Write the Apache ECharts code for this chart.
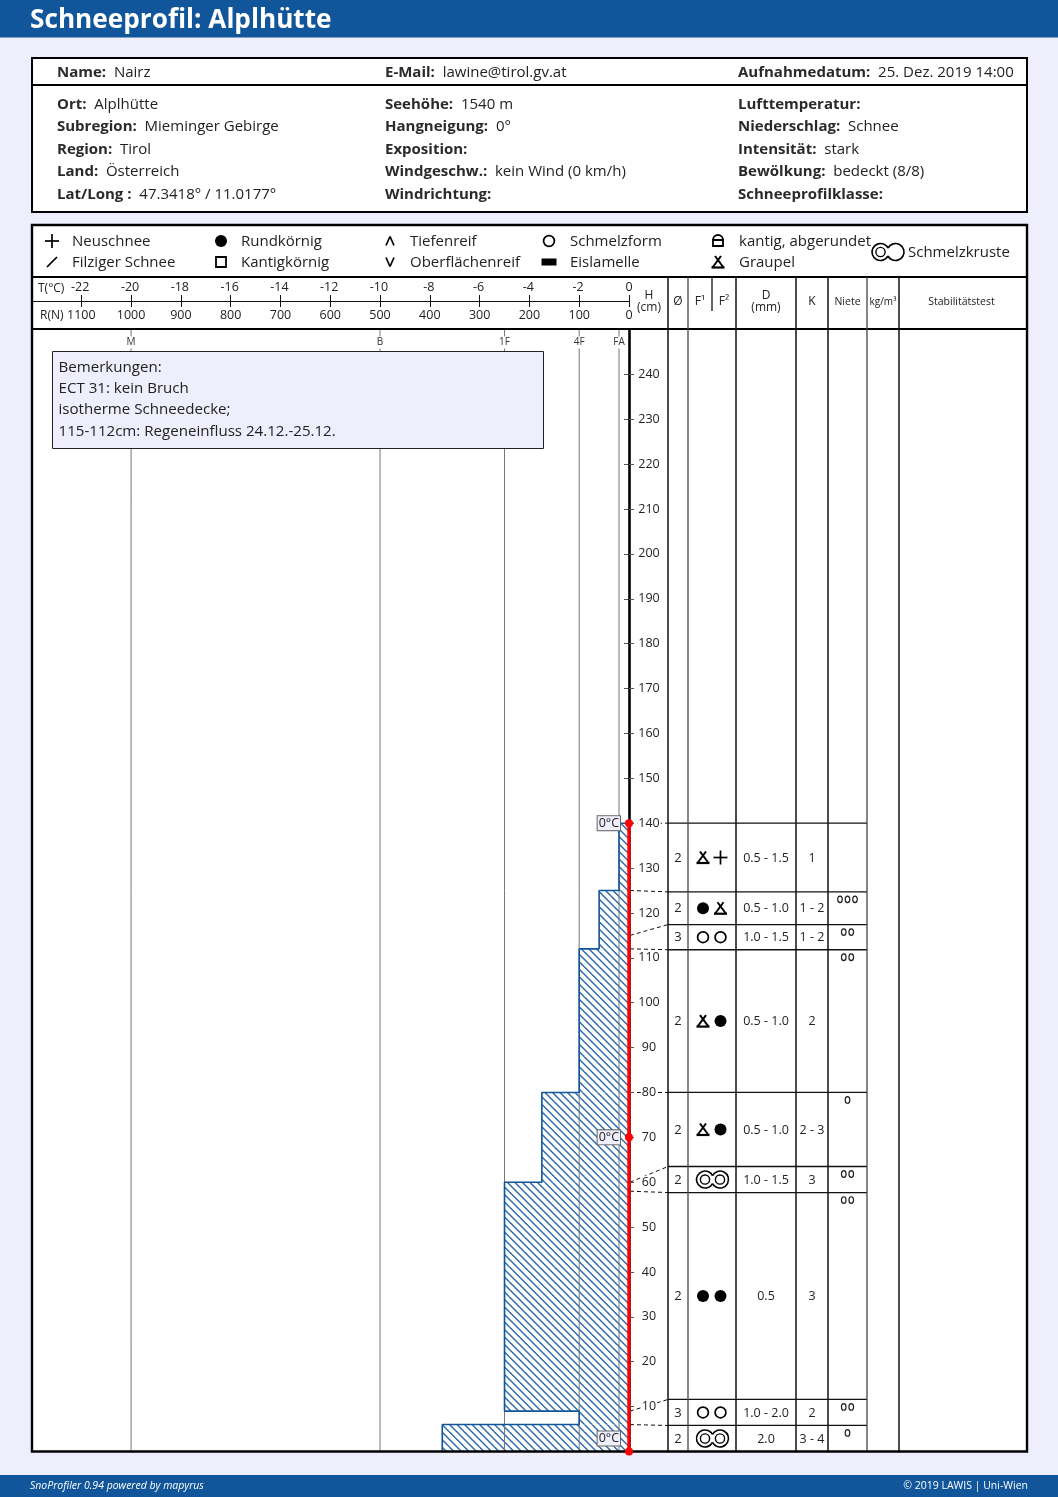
<!DOCTYPE html>
<html lang="de">
<head>
<meta charset="UTF-8">
<title>Schneeprofil: Alplhütte</title>
<script src="https://cdn.jsdelivr.net/npm/echarts@6/dist/echarts.min.js"></script>
<style>
html,body{margin:0;padding:0;background:#eeeefc}
#main{width:1058px;height:1497px}
</style>
</head>
<body>
<div id="main"></div>
<script>
// kopfdaten
var infoTop = [['Name:', 'Nairz'], ['E-Mail:', 'lawine@tirol.gv.at'], ['Aufnahmedatum:', '25. Dez. 2019 14:00']];
var infoLeft = [['Ort:', 'Alplhütte'], ['Subregion:', 'Mieminger Gebirge'], ['Region:', 'Tirol'], ['Land:', 'Österreich'], ['Lat/Long :', '47.3418° / 11.0177°']];
var infoMid = [['Seehöhe:', '1540 m'], ['Hangneigung:', '0°'], ['Exposition:', ''], ['Windgeschw.:', 'kein Wind (0 km/h)'], ['Windrichtung:', '']];
var infoRight = [['Lufttemperatur:', ''], ['Niederschlag:', 'Schnee'], ['Intensität:', 'stark'], ['Bewölkung:', 'bedeckt (8/8)'], ['Schneeprofilklasse:', '']];
var remarks = ['Bemerkungen:', 'ECT 31: kein Bruch', 'isotherme Schneedecke;', '115-112cm: Regeneinfluss 24.12.-25.12.'];

// legende
var legendNames = ['Neuschnee', 'Filziger Schnee', 'Rundkörnig', 'Kantigkörnig', 'Tiefenreif', 'Oberflächenreif', 'Schmelzform', 'Eislamelle', 'kantig, abgerundet', 'Graupel'];
var legendGlyphs = ['plus', 'slash', 'round', 'square', 'caret', 'vee', 'ring', 'ice', 'rounded', 'graupel'];

// harteprofil: R(N) je abschnitt
var hardBottom = [0, 6, 9, 60, 80, 112, 125];
var hardTop = [6, 9, 60, 80, 112, 125, 140];
var hardValue = [375, 100, 250, 175, 100, 60, 20];
var handValues = [1000, 500, 250, 100, 20];
var handNames = ['M', 'B', '1F', '4F', 'FA'];

// temperatur
var tempHeight = [140, 70, 0];
var tempValue = [0, 0, 0];

// schichten von oben nach unten
var layerTop = [140, 125, 115, 112, 80, 60, 58, 9, 6];
var layerBottom = [125, 115, 112, 80, 60, 58, 9, 6, 0];
var rowTop = [140, 124.7, 117.4, 111.8, 80, 63.5, 57.7, 11.6, 5.8];
var rowBottom = [124.7, 117.4, 111.8, 80, 63.5, 57.7, 11.6, 5.8, 0];
var grainSize = ['2', '2', '3', '2', '2', '2', '2', '3', '2'];
var grainF1 = ['graupel', 'round', 'ring', 'graupel', 'graupel', 'crust', 'round', 'ring', 'crust'];
var grainF2 = ['plus', 'graupel', 'ring', 'round', 'round', '', 'round', 'ring', ''];
var diameter = ['0.5 - 1.5', '0.5 - 1.0', '1.0 - 1.5', '0.5 - 1.0', '0.5 - 1.0', '1.0 - 1.5', '0.5', '1.0 - 2.0', '2.0'];
var hardClass = ['1', '1 - 2', '1 - 2', '2', '2 - 3', '3', '3', '2', '3 - 4'];
var niete = [0, 3, 2, 2, 1, 2, 2, 2, 1];

var FONT = '"Open Sans", "Noto Sans", sans-serif';
var BLUE = '#11559a';
var BG = '#eeeefc';
var HATCH = '#2a68ad';

var colEdges = [668, 688, 736, 796, 828, 867];

function font(size, weight, style) {
    return (style ? style + ' ' : '') + (weight ? weight + ' ' : '') + size + 'px ' + FONT;
}

function txt(x, y, text, size, opts) {
    opts = opts || {};
    return {
        type: 'text', z: opts.z || 50, silent: true,
        style: {
            x: x, y: y + 1, text: text, font: font(size, opts.weight, opts.style),
            fill: opts.fill || '#222', align: opts.align || 'left', verticalAlign: 'middle'
        }
    };
}

function seg(x1, y1, x2, y2, w, color, dash, z) {
    return {
        type: 'line', z: z || 40, silent: true,
        shape: { x1: x1, y1: y1, x2: x2, y2: y2 },
        style: { stroke: color || '#000', lineWidth: w || 1, lineDash: dash || null }
    };
}

function circle(x, y, r, fill, lw) {
    return {
        type: 'circle', z: 50, silent: true, shape: { cx: x, cy: y, r: r },
        style: fill ? { fill: '#000' } : { fill: 'none', stroke: '#000', lineWidth: lw || 1.6 }
    };
}

// kornformen als kleine grafikgruppen
function glyph(kind, x, y, legend) {
    var c = [];
    if (kind === 'plus') {
        c = [seg(x - 7, y, x + 7, y, 1.7, '#000', null, 50), seg(x, y - 7, x, y + 7, 1.7, '#000', null, 50)];
    } else if (kind === 'slash') {
        c = [seg(x - 5, y + 5, x + 5, y - 5, 1.7, '#000', null, 50)];
    } else if (kind === 'round') {
        c = [circle(x, y, 6, true)];
    } else if (kind === 'ring') {
        c = [circle(x, y, 5.4, false, 1.7)];
    } else if (kind === 'square') {
        c = [{ type: 'rect', z: 50, silent: true, shape: { x: x - 5, y: y - 5, width: 10, height: 10 }, style: { fill: 'none', stroke: '#000', lineWidth: 1.8 } }];
    } else if (kind === 'caret') {
        c = [seg(x - 4, y + 4.5, x, y - 4.5, 1.7, '#000', null, 50), seg(x, y - 4.5, x + 4, y + 4.5, 1.7, '#000', null, 50)];
    } else if (kind === 'vee') {
        c = [seg(x - 4, y - 4.5, x, y + 4.5, 1.7, '#000', null, 50), seg(x, y + 4.5, x + 4, y - 4.5, 1.7, '#000', null, 50)];
    } else if (kind === 'ice') {
        c = [{ type: 'rect', z: 50, silent: true, shape: { x: x - 7.5, y: y - 3.5, width: 15, height: 7 }, style: { fill: '#000' } }];
    } else if (kind === 'rounded') {
        c = [
            { type: 'rect', z: 50, silent: true, shape: { x: x - 5, y: y - 1, width: 10, height: 6 }, style: { fill: 'none', stroke: '#000', lineWidth: 1.8 } },
            { type: 'arc', z: 50, silent: true, shape: { cx: x, cy: y - 1, r: 5, startAngle: Math.PI, endAngle: 0, clockwise: true }, style: { fill: 'none', stroke: '#000', lineWidth: 1.8 } }
        ];
    } else if (kind === 'graupel') {
        c = [
            seg(x - 5.5, y + 5.5, x + 3, y - 6, 2, '#000', null, 50),
            seg(x + 5.5, y + 5.5, x - 3, y - 6, 2, '#000', null, 50),
            seg(x - 6.5, y + 5.5, x + 6.5, y + 5.5, 2.2, '#000', null, 50)
        ];
    } else if (kind === 'crust') {
        var st = { fill: 'none', stroke: '#000', lineWidth: 1.6 };
        c = [
            { type: 'arc', z: 50, silent: true, shape: { cx: x - 7.5, cy: y, r: 8.5, startAngle: 0.49, endAngle: Math.PI * 2 - 0.49, clockwise: true }, style: st },
            { type: 'arc', z: 50, silent: true, shape: { cx: x + 7.5, cy: y, r: 8.5, startAngle: Math.PI + 0.49, endAngle: Math.PI - 0.49, clockwise: true }, style: st },
            circle(x - 7.5, y, 4.6, false, 1.4)
        ];
        if (!legend) c.push(circle(x + 7.5, y, 4.6, false, 1.4));
    }
    return { type: 'group', children: c };
}

// schraffur als wiederholtes muster, zwei linien je kachel
function hatchPattern() {
    var n = 15, cv = document.createElement('canvas');
    cv.width = n; cv.height = n;
    var g = cv.getContext('2d');
    g.fillStyle = '#fff';
    g.fillRect(0, 0, n, n);
    g.strokeStyle = HATCH;
    g.lineWidth = 1.4;
    [-15, -7.5, 0, 7.5, 15].forEach(function (d) {
        g.beginPath(); g.moveTo(d - 2, -2); g.lineTo(d + n + 2, n + 2); g.stroke();
    });
    return { image: cv, repeat: 'repeat' };
}
var hatch = hatchPattern();

// rahmen und feste texte
function chrome() {
    var g = [];
    g.push({ type: 'rect', z: 0, silent: true, shape: { x: 0, y: 0, width: 1058, height: 37.5 }, style: { fill: BLUE } });
    g.push({ type: 'rect', z: 0, silent: true, shape: { x: 0, y: 1475, width: 1058, height: 22 }, style: { fill: BLUE } });
    g.push(txt(30, 20, 'Schneeprofil: Alplhütte', 26.2, { weight: 'bold', fill: '#fff' }));
    g.push(txt(30, 1485.5, 'SnoProfiler 0.94 powered by mapyrus', 10.5, { style: 'italic', fill: '#fff' }));
    g.push(txt(1028, 1485.5, '© 2019 LAWIS | Uni-Wien', 10.5, { fill: '#fff', align: 'right' }));

    g.push({ type: 'rect', z: 0, silent: true, shape: { x: 32, y: 58, width: 995, height: 154 }, style: { fill: '#fff' } });
    g.push({ type: 'rect', z: 0, silent: true, shape: { x: 32, y: 225, width: 995, height: 1226.5 }, style: { fill: '#fff' } });
    g.push({ type: 'rect', z: 45, silent: true, shape: { x: 32, y: 58, width: 995, height: 154 }, style: { fill: 'none', stroke: '#000', lineWidth: 2 } });
    g.push({ type: 'rect', z: 45, silent: true, shape: { x: 32, y: 225, width: 995, height: 1226.5 }, style: { fill: 'none', stroke: '#000', lineWidth: 2.4 } });
    g.push(seg(32, 85, 1027, 85, 2, '#000'));
    g.push(seg(32, 277, 1027, 277, 2, '#000'));
    g.push(seg(32, 329, 1027, 329, 2, '#000'));

    function info(x, y, row) {
        g.push({
            type: 'text', z: 50, silent: true,
            style: {
                x: x, y: y + 1, verticalAlign: 'middle', align: 'left',
                text: '{b|' + row[0] + '  }{v|' + row[1] + '}',
                rich: {
                    b: { font: font(15, 'bold'), fill: '#2a2a2a' },
                    v: { font: font(15), fill: '#222' }
                }
            }
        });
    }
    var tops = [57, 385, 738];
    infoTop.forEach(function (r, i) { info(tops[i], 72, r); });
    [infoLeft, infoMid, infoRight].forEach(function (col, c) {
        col.forEach(function (r, i) { info(tops[c], 103.5 + i * 22.5, r); });
    });

    var lx = [52, 221, 390, 549, 718], ltx = [72, 241, 410, 570, 739];
    legendNames.forEach(function (name, i) {
        var c = Math.floor(i / 2), y = i % 2 ? 262 : 241;
        g.push(glyph(legendGlyphs[i], lx[c], y, true));
        g.push(txt(ltx[c], y, name, 15));
    });
    g.push(glyph('crust', 888, 252, true));
    g.push(txt(908, 252, 'Schmelzkruste', 15));

    // tabellenkopf
    [668, 688, 736, 796, 828, 867, 899].forEach(function (x, i) {
        g.push(seg(x, 277, x, 1451, i === 1 || i === 5 ? 1.3 : 1.5, i === 1 || i === 5 ? '#444' : '#111'));
    });
    g.push(seg(712, 277, 712, 311, 1.3, '#111'));
    g.push(txt(38, 288, 'T(°C)', 12));
    g.push(txt(40, 315, 'R(N)', 12));
    g.push(txt(649, 295, 'H', 12, { align: 'center' }));
    g.push(txt(649, 307, '(cm)', 12, { align: 'center' }));
    g.push(txt(678, 300.5, 'Ø', 12, { align: 'center' }));
    g.push(txt(700, 300.5, 'F¹', 12, { align: 'center' }));
    g.push(txt(724, 300.5, 'F²', 12, { align: 'center' }));
    g.push(txt(766, 295, 'D', 12, { align: 'center' }));
    g.push(txt(766, 307, '(mm)', 12, { align: 'center' }));
    g.push(txt(812, 300.5, 'K', 12, { align: 'center' }));
    g.push(txt(847.5, 301, 'Niete', 10.5, { align: 'center' }));
    g.push(txt(883, 301, 'kg/m³', 10, { align: 'center' }));
    g.push(txt(961.5, 301, 'Stabilitätstest', 10.5, { align: 'center' }));

    // bemerkungen
    g.push({ type: 'rect', z: 60, silent: true, shape: { x: 52.5, y: 351.5, width: 491, height: 97 }, style: { fill: BG, stroke: '#222', lineWidth: 1 } });
    remarks.forEach(function (t, i) {
        var el = txt(58.5, 366.5 + i * 21.3, t, 15.1);
        el.z = 61;
        g.push(el);
    });
    return g;
}

var chart = echarts.init(document.getElementById('main'), null, { renderer: 'canvas' });

// umriss von oben nach unten
var outline = [[0, hardTop[hardTop.length - 1]]];
for (var ii = hardValue.length - 1; ii >= 0; ii--) {
    outline.push([hardValue[ii], hardTop[ii]]);
    outline.push([hardValue[ii], hardBottom[ii]]);
}

var noLabel = { show: false };
var off = { show: false };

chart.setOption({
    animation: false,
    backgroundColor: BG,
    textStyle: { fontFamily: FONT },
    graphic: chrome(),
    grid: [
        { left: 31.5, top: 329.5, width: 597.5, height: 1122 },
        { left: 629, top: 329.5, width: 398, height: 1122 },
        { left: 31.5, top: 301, width: 597.5, height: 0 }
    ],
    xAxis: [
        { type: 'value', gridIndex: 0, min: 0, max: 1200, inverse: true, show: false },
        { type: 'value', gridIndex: 0, min: -24, max: 0, show: false },
        { type: 'value', gridIndex: 1, min: 629, max: 1027, show: false },
        {
            type: 'value', gridIndex: 2, min: -24, max: 0, interval: 2, position: 'top',
            axisLine: { lineStyle: { color: '#111', width: 1.2 } },
            axisTick: { length: 6, lineStyle: { color: '#111' } },
            splitLine: off,
            axisLabel: {
                margin: 7.5, fontSize: 12.5, color: '#222', fontFamily: FONT, hideOverlap: false,
                formatter: function (v) { return v === -24 ? '' : v === 0 ? '0' : String(v) + '\u2009'; }
            }
        },
        {
            type: 'value', gridIndex: 2, min: 0, max: 1200, interval: 100, inverse: true, position: 'bottom',
            axisLine: { lineStyle: { color: '#111', width: 1.2 } },
            axisTick: { length: 6, lineStyle: { color: '#111' } },
            splitLine: off,
            axisLabel: {
                margin: 8, fontSize: 12.5, color: '#222', fontFamily: FONT, hideOverlap: false,
                formatter: function (v) { return v === 1200 ? '' : String(v); }
            }
        }
    ],
    yAxis: [
        {
            type: 'value', gridIndex: 0, min: 0, max: 250, interval: 10, position: 'right', z: 20,
            axisLine: { show: true, onZero: false, lineStyle: { color: '#000', width: 2.6 } },
            axisTick: { show: true, length: 5, lineStyle: { color: '#555', width: 1 } },
            splitLine: off,
            axisLabel: {
                margin: 20, align: 'center', fontSize: 12.5, color: '#222', fontFamily: FONT, hideOverlap: false,
                backgroundColor: '#fff', padding: [0, 1, 0, 1],
                formatter: function (v) { return v === 0 || v === 250 ? '' : String(v); }
            }
        },
        {
            type: 'value', gridIndex: 0, min: 0, max: 250, interval: 10, position: 'right', z: 0,
            axisLine: noLabel,
            axisTick: { show: true, inside: true, length: 5, lineStyle: { color: '#555', width: 1 } },
            axisLabel: noLabel, splitLine: off
        },
        { type: 'value', gridIndex: 1, min: 0, max: 250, show: false },
        { type: 'value', gridIndex: 2, min: 0, max: 1, show: false }
    ],
    series: [
        {
            // schraffierte harte
            type: 'custom', xAxisIndex: 0, yAxisIndex: 0, z: 3, clip: false, silent: true,
            data: hardValue.map(function (v, i) { return [v, hardBottom[i], hardTop[i]]; }),
            encode: { x: 0, y: [1, 2] },
            renderItem: function (p, api) {
                var a = api.coord([api.value(0), api.value(2)]);
                var b = api.coord([0, api.value(1)]);
                return {
                    type: 'rect',
                    shape: { x: a[0], y: a[1], width: b[0] - a[0], height: b[1] - a[1] },
                    style: { fill: hatch }
                };
            }
        },
        {
            // handhaerte-linien
            type: 'custom', xAxisIndex: 0, yAxisIndex: 0, z: 4, clip: false, silent: true,
            data: handValues.map(function (v, i) { return [v, i]; }),
            encode: { x: 0 },
            renderItem: function (p, api) {
                var t = api.coord([api.value(0), 250]);
                var b = api.coord([api.value(0), 0]);
                return {
                    type: 'group',
                    children: [
                        seg(t[0], t[1], t[0], b[1], 1, '#777', null, 1),
                        {
                            type: 'text',
                            style: {
                                x: t[0], y: t[1] + 13, text: handNames[api.value(1)],
                                font: font(10), fill: '#333', align: 'center', verticalAlign: 'middle',
                                backgroundColor: '#fff', padding: [1, 0, 1, 0]
                            }
                        }
                    ]
                };
            }
        },
        {
            // umriss
            type: 'line', xAxisIndex: 0, yAxisIndex: 0, z: 5, silent: true, showSymbol: false, symbol: 'none',
            data: outline, clip: false, lineStyle: { color: BLUE, width: 1.6 }
        },
        {
            // tabellenzeilen
            type: 'custom', xAxisIndex: 2, yAxisIndex: 2, z: 6, clip: false, silent: true,
            data: layerTop.map(function (v, i) { return [colEdges[0], rowTop[i], i]; }),
            encode: { x: 0, y: 1 },
            renderItem: function (p, api) {
                var i = api.value(2);
                var top = api.coord([colEdges[0], rowTop[i]]);
                var bot = api.coord([colEdges[5], rowBottom[i]]);
                var left = api.coord([630, layerTop[i]]);
                var mid = (top[1] + bot[1]) / 2;
                var c = [];
                c.push(seg(top[0], top[1], bot[0], top[1], 1.3, '#111', null, 1));
                // verbindung zur hoehe
                c.push(seg(left[0], left[1], top[0], top[1], 1, '#111', [4, 3], 1));
                c.push(txt(678, mid - 0.5, grainSize[i], 13, { z: 1 }));
                c[c.length - 1].style.align = 'center';
                if (grainF1[i] === 'crust') {
                    c.push(glyph('crust', 712.5, mid, false));
                } else {
                    c.push(glyph(grainF1[i], 703, mid, false));
                    c.push(glyph(grainF2[i], 720.5, mid, false));
                }
                var d = txt(766, mid - 0.5, diameter[i], 12.5, { z: 1 }); d.style.align = 'center'; c.push(d);
                var k = txt(812, mid - 0.5, hardClass[i], 12.5, { z: 1 }); k.style.align = 'center'; c.push(k);
                for (var n = 0; n < niete[i]; n++) {
                    var nx = 847.5 + (n - (niete[i] - 1) / 2) * 7.5;
                    c.push({
                        type: 'ellipse', shape: { cx: nx, cy: top[1] + 7.5, rx: 2.3, ry: 3.3 },
                        style: { fill: 'none', stroke: '#222', lineWidth: 1.2 }
                    });
                }
                return { type: 'group', children: c };
            }
        },
        {
            // temperatur
            type: 'line', xAxisIndex: 1, yAxisIndex: 0, z: 70, silent: true, clip: false,
            data: tempHeight.map(function (h, i) {
                return {
                    value: [tempValue[i], h],
                    label: { offset: h === 0 ? [0, -13] : [0, 0] }
                };
            }),
            symbol: 'circle', symbolSize: 8, showSymbol: true, showAllSymbol: true,
            lineStyle: { color: '#f00', width: 3.4 },
            itemStyle: { color: '#f00' },
            label: {
                show: true, position: 'left', distance: 5, formatter: '0°C',
                fontSize: 12.5, fontFamily: FONT, color: '#222',
                backgroundColor: BG, borderColor: '#666', borderWidth: 1, padding: [1, 1, 0, 1]
            }
        }
    ]
});
</script>
</body>
</html>
